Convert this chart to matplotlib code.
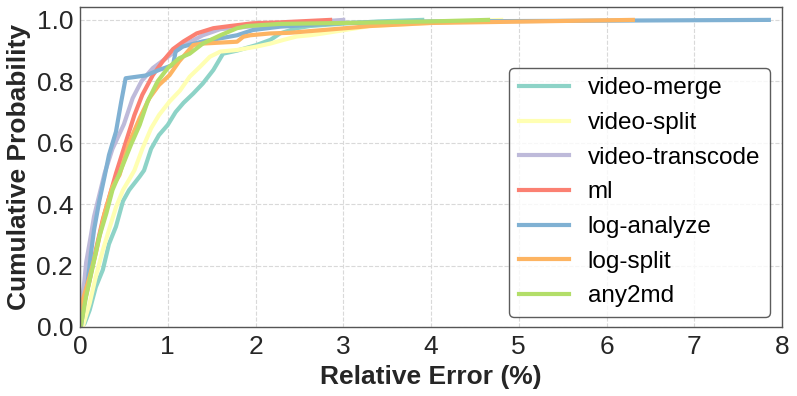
import matplotlib
matplotlib.use("Agg")
import matplotlib.pyplot as plt

plt.rcParams['font.family'] = ['Liberation Sans', 'DejaVu Sans']

names = ["video-merge", "video-split", "video-transcode", "ml", "log-analyze", "log-split", "any2md"]
colors = ["#8dd3c7", "#ffffb3", "#bebada", "#fb8072", "#80b1d3", "#fdb462", "#b3de69"]

video_merge_x = [0, 0.05, 0.11, 0.18, 0.26, 0.33, 0.41, 0.49, 0.56, 0.68, 0.73, 0.81, 0.90, 1.0, 1.09, 1.18, 1.29, 1.40, 1.52, 1.63, 1.79, 2.01, 2.17, 2.28, 2.47, 2.62, 3.0, 3.4, 3.9]
video_merge_y = [0, 0.01, 0.055, 0.13, 0.186, 0.27, 0.327, 0.41, 0.446, 0.49, 0.51, 0.58, 0.625, 0.658, 0.70, 0.73, 0.76, 0.793, 0.837, 0.89, 0.90, 0.918, 0.935, 0.956, 0.973, 0.98, 0.988, 0.995, 1.0]

video_split_x = [0, 0.03, 0.11, 0.18, 0.26, 0.33, 0.41, 0.49, 0.56, 0.62, 0.71, 0.81, 0.90, 1.02, 1.14, 1.25, 1.37, 1.48, 1.60, 1.79, 2.01, 2.17, 2.32, 2.47, 2.62, 2.77, 3.15, 3.30, 4.0, 4.8]
video_split_y = [0, 0.0, 0.077, 0.164, 0.25, 0.316, 0.39, 0.446, 0.48, 0.51, 0.58, 0.647, 0.69, 0.734, 0.77, 0.815, 0.848, 0.88, 0.897, 0.902, 0.913, 0.923, 0.935, 0.946, 0.95, 0.956, 0.973, 0.98, 0.99, 1.0]

video_transcode_x = [0, 0.02, 0.05, 0.07, 0.125, 0.16, 0.22, 0.28, 0.37, 0.50, 0.60, 0.70, 0.83, 0.98, 1.05, 1.2, 1.4, 1.6, 2.0, 2.5, 3.0]
video_transcode_y = [0, 0.08, 0.15, 0.21, 0.30, 0.36, 0.43, 0.50, 0.58, 0.66, 0.745, 0.80, 0.843, 0.875, 0.89, 0.92, 0.95, 0.97, 0.98, 0.99, 1.0]

ml_x = [0, 0.03, 0.11, 0.18, 0.26, 0.33, 0.41, 0.52, 0.62, 0.71, 0.83, 0.94, 1.06, 1.18, 1.33, 1.52, 1.71, 1.97, 2.28, 2.85]
ml_y = [0, 0.055, 0.153, 0.25, 0.35, 0.42, 0.50, 0.60, 0.69, 0.756, 0.82, 0.864, 0.905, 0.93, 0.956, 0.973, 0.98, 0.989, 0.992, 1.0]

log_analyze_x = [0, 0.01, 0.05, 0.09, 0.125, 0.16, 0.22, 0.28, 0.33, 0.41, 0.47, 0.52, 0.75, 0.90, 1.06, 1.09, 1.17, 1.40, 1.60, 1.79, 1.97, 2.28, 3.0, 4.0, 7.85]
log_analyze_y = [0, 0.0, 0.077, 0.153, 0.24, 0.316, 0.41, 0.49, 0.56, 0.636, 0.734, 0.81, 0.819, 0.837, 0.853, 0.897, 0.913, 0.93, 0.94, 0.95, 0.967, 0.978, 0.99, 0.995, 1.0]

log_split_x = [0, 0.02, 0.11, 0.18, 0.28, 0.37, 0.45, 0.56, 0.68, 0.79, 0.90, 1.02, 1.13, 1.29, 1.40, 1.79, 1.86, 1.94, 2.17, 2.39, 2.77, 3.15, 3.30, 4.0, 6.3]
log_split_y = [0, 0.077, 0.164, 0.24, 0.37, 0.457, 0.495, 0.60, 0.68, 0.745, 0.788, 0.82, 0.865, 0.918, 0.923, 0.929, 0.945, 0.95, 0.956, 0.958, 0.967, 0.976, 0.98, 0.99, 1.0]

any2md_x = [0, 0.01, 0.07, 0.145, 0.22, 0.30, 0.37, 0.45, 0.58, 0.68, 0.77, 0.885, 1.0, 1.13, 1.25, 1.40, 1.6, 1.79, 1.9, 2.28, 3.0, 4.0, 4.65]
any2md_y = [0, 0.005, 0.10, 0.196, 0.294, 0.37, 0.446, 0.50, 0.593, 0.658, 0.734, 0.80, 0.843, 0.875, 0.89, 0.923, 0.95, 0.973, 0.98, 0.987, 0.99, 0.995, 1.0]

series = [
    (video_merge_x, video_merge_y),
    (video_split_x, video_split_y),
    (video_transcode_x, video_transcode_y),
    (ml_x, ml_y),
    (log_analyze_x, log_analyze_y),
    (log_split_x, log_split_y),
    (any2md_x, any2md_y),
]

x_ticks = [0, 1, 2, 3, 4, 5, 6, 7, 8]
y_ticks = [0.0, 0.2, 0.4, 0.6, 0.8, 1.0]

fig = plt.figure(figsize=(7.97, 3.96), dpi=100)
ax = fig.add_axes([80/797, 69/396, 702/797, 320/396])

for name, c, (xs, ys) in zip(names, colors, series):
    ax.plot(xs, ys, color=c, lw=3, label=name, solid_joinstyle='round')

ax.set_xlim(0, 8)
ax.set_ylim(0, 1.042)
ax.set_xticks(x_ticks)
ax.set_yticks(y_ticks)
ax.set_yticklabels([f"{v:.1f}" for v in y_ticks])
ax.tick_params(axis='both', labelsize=19, length=0, colors='#262626')
ax.tick_params(axis='x', pad=6)
ax.tick_params(axis='y', pad=5)
ax.grid(True, linestyle='--', color='#d9d9d9', linewidth=0.8)
ax.set_axisbelow(True)
for s in ax.spines.values():
    s.set_color('#555555')
    s.set_linewidth(1.0)

ax.set_xlabel("Relative Error (%)", fontsize=19, fontweight='bold', color='#262626', labelpad=4)
ax.set_ylabel("Cumulative Probability", fontsize=19, fontweight='bold', color='#262626', labelpad=4)

leg = ax.legend(loc='lower right', fontsize=17.5, frameon=True, fancybox=True,
                bbox_to_anchor=(0.983, 0.031), borderaxespad=0, handlelength=2.06,
                labelspacing=0.52, borderpad=0.4, handletextpad=0.78)
leg.get_frame().set_edgecolor('#333333')
leg.get_frame().set_linewidth(1.0)
for line in leg.get_lines():
    line.set_linewidth(3)

fig.savefig("out.png", dpi=100)
